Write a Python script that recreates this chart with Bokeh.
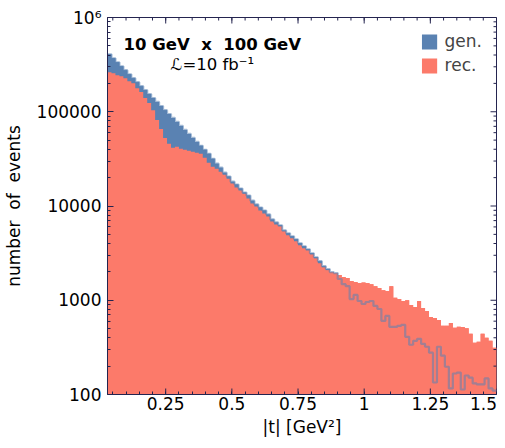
import numpy as np
from bokeh.plotting import figure
from bokeh.models import (FixedTicker, Label, Legend, LegendItem, Range1d,
                          ColumnDataSource)
from bokeh.embed import file_html
from bokeh.resources import INLINE

# ---- data -----------------------------------------------------------------
T_MIN, T_MAX = 0.03, 1.5
N_BINS = 98

gen = [407000, 369000, 335000, 304000, 276000, 250000, 227000, 206000, 187000, 170000,
       154000, 140000, 127000, 115000, 104000, 94700, 85900, 78000, 70700, 64200,
       58200, 52800, 47900, 43500, 39500, 35800, 31700, 28100, 25500, 22600,
       20500, 18100, 16900, 15300, 13900, 12900, 11400, 10400, 9640, 8960,
       8130, 7200, 6700, 6230, 5510, 5130, 4770, 4430, 4020, 3740,
       3470, 3150, 2860, 2600, 2300, 2140, 1990, 1940, 1680, 1480,
       1410, 1030, 1140, 982, 913, 958, 982, 870, 808, 604,
       682, 522, 522, 535, 548, 409, 337, 371, 390, 345,
       321, 278, 134, 321, 258, 197, 116, 167, 171, 113,
       159, 151, 131, 128, 128, 148, 116, 110]

rec = [263000, 256000, 244000, 238000, 227000, 211000, 201000, 178000, 162000, 140000,
       124000, 104000, 81800, 65800, 52800, 45700, 41400, 42500, 40400, 39500,
       38500, 37600, 36700, 35800, 32500, 28800, 26100, 24900, 23100, 21500,
       19500, 17300, 15700, 14600, 13500, 12000, 10600, 9880, 8960, 8330,
       7750, 6850, 6380, 6080, 5400, 4880, 4550, 4220, 3830, 3560,
       3390, 3080, 2790, 2470, 2240, 2090, 1990, 1940, 1850, 1760,
       1720, 1600, 1560, 1520, 1540, 1520, 1480, 1410, 1350, 1280,
       1250, 1410, 1060, 1030, 982, 1000, 891, 849, 982, 828,
       770, 666, 650, 619, 535, 535, 575, 510, 525, 520,
       505, 440, 354, 363, 440, 400, 371, 313]

x_ticks = [0.25, 0.5, 0.75, 1.0, 1.25, 1.5]
x_tick_labels = ["0.25", "0.5", "0.75", "1", "1.25", "1.5"]
x_minor = [round(0.05 * k, 2) for k in range(1, 31)]
y_ticks = [100, 1000, 10000, 100000, 1000000]
y_tick_labels = ["100", "1000", "10000", "100000", "10\u2076"]
y_minor = [m * 10 ** e for e in range(2, 6) for m in range(2, 10)]

series_names = ["gen.", "rec."]
title_text = "10 GeV\u00a0 x\u00a0 100 GeV"
lumi_text = "\u2112=10 fb\u207b\u00b9"
x_label = "|t| [GeV\u00b2]"
y_label = "number\u00a0 of\u00a0 events"

# ---- style ----------------------------------------------------------------
BLUE = "#5a82b2"
SALMON = "#fc7a6a"
AXIS = "#24244f"
FONT = "DejaVu Sans"
TICK_MAJ, TICK_MIN = 6, 3
W, H = 497, 440
B_LEFT, B_RIGHT, B_TOP, B_BOTTOM = 106, 1, 17, 46
FRAME_W = W - B_LEFT - B_RIGHT

edges = np.linspace(T_MIN, T_MAX, N_BINS + 1)
gen_y = list(gen) + [gen[-1]]
rec_y = list(rec) + [rec[-1]]

p = figure(width=W, height=H, output_backend="svg", toolbar_location=None,
           y_axis_type="log",
           x_range=Range1d(T_MIN, T_MAX), y_range=Range1d(100, 1e6),
           min_border_left=B_LEFT, min_border_right=B_RIGHT,
           min_border_top=B_TOP, min_border_bottom=B_BOTTOM)
p.xgrid.visible = False
p.ygrid.visible = False
p.outline_line_color = AXIS
p.outline_line_width = 1
p.background_fill_color = "white"
p.border_fill_color = "white"

# bars (used for the legend), then seamless step areas on top of them
src = ColumnDataSource(dict(left=edges[:-1], right=edges[1:], gen=gen, rec=rec))
r_gen = p.quad(left="left", right="right", top="gen", bottom=1, source=src,
               fill_color=BLUE, line_color=None)
r_rec = p.quad(left="left", right="right", top="rec", bottom=1, source=src,
               fill_color=SALMON, line_color=None)
p.varea_step(x=edges, y1=1, y2=gen_y, step_mode="after", fill_color=BLUE)
p.varea_step(x=edges, y1=1, y2=rec_y, step_mode="after", fill_color=SALMON)
p.step(x=edges, y=gen_y, mode="after", line_color=BLUE, line_alpha=0.55,
       line_width=2.2)

# inward major ticks on the bottom and top edges, inward ticks on the right
p.ray(x=x_ticks, y=y_ticks[0], length=TICK_MAJ, length_units="screen",
      angle=np.pi / 2, line_color=AXIS, line_width=1)
p.ray(x=x_ticks, y=y_ticks[-1], length=TICK_MAJ, length_units="screen",
      angle=-np.pi / 2, line_color=AXIS, line_width=1)
p.ray(x=x_minor, y=y_ticks[-1], length=TICK_MIN, length_units="screen",
      angle=-np.pi / 2, line_color=AXIS, line_width=1)
p.ray(x=T_MAX, y=y_ticks, length=TICK_MAJ, length_units="screen",
      angle=np.pi, line_color=AXIS, line_width=1)
p.ray(x=T_MAX, y=y_minor, length=TICK_MIN, length_units="screen",
      angle=np.pi, line_color=AXIS, line_width=1)


def style_axis(ax):
    ax.axis_line_color = AXIS
    ax.major_tick_line_color = AXIS
    ax.minor_tick_line_color = AXIS
    ax.major_tick_in = TICK_MAJ
    ax.major_tick_out = 0
    ax.minor_tick_in = TICK_MIN
    ax.minor_tick_out = 0
    ax.major_label_text_font = FONT
    ax.major_label_text_font_size = "17px"
    ax.major_label_text_color = "black"
    ax.axis_label_text_font = FONT
    ax.axis_label_text_font_size = "17px"
    ax.axis_label_text_font_style = "normal"
    ax.axis_label_text_color = "black"


# the last tick label sits at the frame corner; as in the original it is
# pulled left so that it stays inside the picture (tick marks drawn above)
last_label_pos = T_MAX - 13 * (T_MAX - T_MIN) / FRAME_W
label_pos = x_ticks[:-1] + [last_label_pos]

xa = p.xaxis[0]
xa.ticker = FixedTicker(ticks=label_pos, minor_ticks=x_minor)
xa.major_label_overrides = dict(zip(label_pos, x_tick_labels))
xa.axis_label = x_label
xa.major_label_standoff = 2
xa.axis_label_standoff = 4
style_axis(xa)
xa.major_tick_in = 0

ya = p.yaxis[0]
ya.ticker = FixedTicker(ticks=y_ticks, minor_ticks=y_minor)
ya.major_label_overrides = dict(zip(y_ticks, y_tick_labels))
ya.axis_label = y_label
ya.major_label_standoff = 6
ya.axis_label_standoff = 10
style_axis(ya)

p.add_layout(Label(x=0.426, y=5.17e5, text=title_text, text_align="center",
                   text_baseline="middle", text_font=FONT,
                   text_font_size="16.5px", text_font_style="bold",
                   text_color="black"))
p.add_layout(Label(x=0.426, y=3.17e5, text=lumi_text, text_align="center",
                   text_baseline="middle", text_font=FONT,
                   text_font_size="16.5px", text_color="black"))

legend = Legend(items=[LegendItem(label=series_names[0], renderers=[r_gen]),
                       LegendItem(label=series_names[1], renderers=[r_rec])],
                location="top_right", margin=6, padding=8,
                glyph_width=19, glyph_height=19, label_height=19,
                spacing=4, label_standoff=6,
                label_text_font=FONT, label_text_font_size="17px",
                background_fill_alpha=0, border_line_alpha=0)
p.add_layout(legend)

open("out.html", "w").write(file_html(p, INLINE))
